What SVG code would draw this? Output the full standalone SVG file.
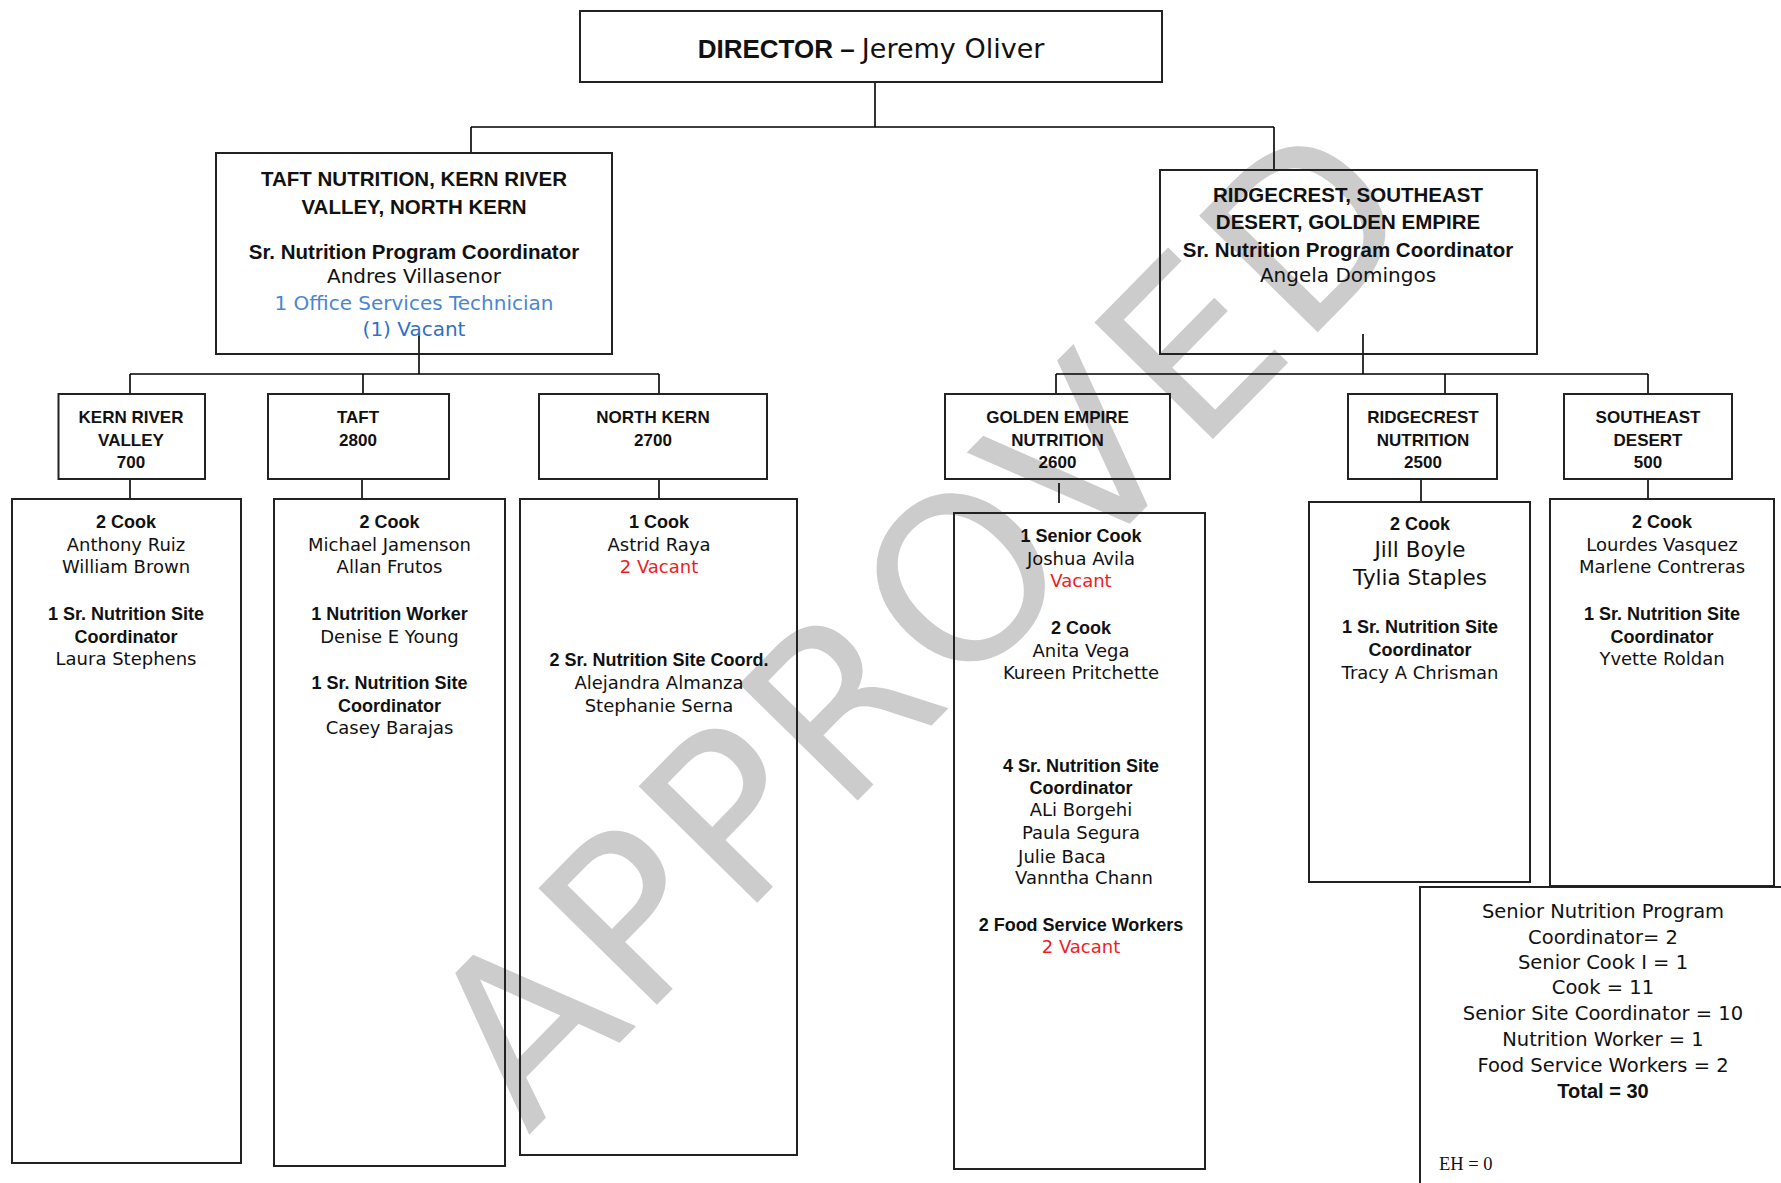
<svg xmlns="http://www.w3.org/2000/svg" width="1781" height="1183" viewBox="0 0 1781 1183">
  <style>
    .box { fill: none; stroke: #222; stroke-width: 2; }
    .conn { fill: none; stroke: #000; stroke-width: 1.6; }
    text { text-anchor: middle; fill: #111; }
    .b { font-family: "Liberation Sans", Arial, sans-serif; font-weight: bold; }
    .r { font-family: "DejaVu Sans", "Liberation Sans", sans-serif; }
    .title { font-size: 20.5px; }
    .name { font-size: 20px; }
    .dist { font-size: 17px; }
    .hd { font-size: 18px; }
    .st { font-size: 18px; }
    .big { font-size: 21.5px; }
    .sum { font-size: 19.5px; }
    .red { fill: #ee1c25; }
    .wm { font-family: "DejaVu Sans", sans-serif; font-size: 228px; fill: #cccccc; text-anchor: start; }
  </style>

  <rect x="0" y="0" width="1781" height="1183" fill="#fff"/>

  <!-- watermark stamp, behind everything -->
  <g id="watermark">
    <text class="wm" x="528" y="1136" textLength="1280" lengthAdjust="spacing" transform="rotate(-45.5 528 1136)">APPROVED</text>
  </g>

  <!-- reporting lines -->
  <g id="connectors" class="conn">
    <path d="M875 82 V127 M471 127 H1274 M471 127 V153 M1274 127 V170"/>
    <path d="M419 333 V374 M130 374 H659 M130 374 V394 M363 374 V394 M659 374 V394"/>
    <path d="M1363 334 V374 M1056 374 H1648 M1056 374 V394 M1445 374 V394 M1648 374 V394"/>
    <path d="M130 479 V499 M362 479 V499 M659 479 V499 M1059 483 V503 M1421 479 V502 M1648 479 V499"/>
  </g>

  <g id="director">
    <rect class="box" x="580" y="11" width="582" height="71"/>
    <text x="871" y="58"><tspan class="b" font-size="26">DIRECTOR – </tspan><tspan class="r" font-size="27">Jeremy Oliver</tspan></text>
  </g>

  <g id="region-west">
    <rect class="box" x="216" y="153" width="396" height="201"/>
    <text class="b title" x="414" y="186">TAFT NUTRITION, KERN RIVER</text>
    <text class="b title" x="414" y="214">VALLEY, NORTH KERN</text>
    <text class="b title" x="414" y="259">Sr. Nutrition Program Coordinator</text>
    <text class="r name" x="414" y="283">Andres Villasenor</text>
    <text class="r name" x="414" y="310" style="fill:#4a86d0">1 Office Services Technician</text>
    <text class="r name" x="414" y="336" style="fill:#2f6fc6">(1) Vacant</text>
  </g>

  <g id="region-east">
    <rect class="box" x="1160" y="170" width="377" height="184"/>
    <text class="b title" x="1348" y="202">RIDGECREST, SOUTHEAST</text>
    <text class="b title" x="1348" y="229">DESERT, GOLDEN EMPIRE</text>
    <text class="b title" x="1348" y="257">Sr. Nutrition Program Coordinator</text>
    <text class="r name" x="1348" y="282">Angela Domingos</text>
  </g>

  <g id="kern-river-valley">
    <rect class="box" x="58.5" y="394" width="146.5" height="85"/>
    <text class="b dist" x="131" y="423">KERN RIVER</text>
    <text class="b dist" x="131" y="446">VALLEY</text>
    <text class="b dist" x="131" y="468">700</text>
  </g>

  <g id="taft">
    <rect class="box" x="268" y="394" width="181" height="85"/>
    <text class="b dist" x="358" y="423">TAFT</text>
    <text class="b dist" x="358" y="446">2800</text>
  </g>

  <g id="north-kern">
    <rect class="box" x="539" y="394" width="228" height="85"/>
    <text class="b dist" x="653" y="423">NORTH KERN</text>
    <text class="b dist" x="653" y="446">2700</text>
  </g>

  <g id="golden-empire">
    <rect class="box" x="945" y="394" width="225" height="85"/>
    <text class="b dist" x="1057.5" y="423">GOLDEN EMPIRE</text>
    <text class="b dist" x="1057.5" y="446">NUTRITION</text>
    <text class="b dist" x="1057.5" y="468">2600</text>
  </g>

  <g id="ridgecrest">
    <rect class="box" x="1348" y="394" width="149" height="85"/>
    <text class="b dist" x="1423" y="423">RIDGECREST</text>
    <text class="b dist" x="1423" y="446">NUTRITION</text>
    <text class="b dist" x="1423" y="468">2500</text>
  </g>

  <g id="southeast-desert">
    <rect class="box" x="1564" y="394" width="168" height="85"/>
    <text class="b dist" x="1648" y="423">SOUTHEAST</text>
    <text class="b dist" x="1648" y="446">DESERT</text>
    <text class="b dist" x="1648" y="468">500</text>
  </g>

  <g id="kern-river-valley-staff">
    <rect class="box" x="12" y="499" width="229" height="664"/>
    <text class="b hd" x="126" y="528">2 Cook</text>
    <text class="r st" x="126" y="551">Anthony Ruiz</text>
    <text class="r st" x="126" y="573">William Brown</text>
    <text class="b hd" x="126" y="620">1 Sr. Nutrition Site</text>
    <text class="b hd" x="126" y="643">Coordinator</text>
    <text class="r st" x="126" y="665">Laura Stephens</text>
  </g>

  <g id="taft-staff">
    <rect class="box" x="274" y="499" width="231" height="667"/>
    <text class="b hd" x="389.5" y="528">2 Cook</text>
    <text class="r st" x="389.5" y="551">Michael Jamenson</text>
    <text class="r st" x="389.5" y="573">Allan Frutos</text>
    <text class="b hd" x="389.5" y="620">1 Nutrition Worker</text>
    <text class="r st" x="389.5" y="643">Denise E Young</text>
    <text class="b hd" x="389.5" y="689">1 Sr.  Nutrition Site</text>
    <text class="b hd" x="389.5" y="712">Coordinator</text>
    <text class="r st" x="389.5" y="734">Casey Barajas</text>
  </g>

  <g id="north-kern-staff">
    <rect class="box" x="520" y="499" width="277" height="656"/>
    <text class="b hd" x="659" y="528">1 Cook</text>
    <text class="r st" x="659" y="551">Astrid Raya</text>
    <text class="r st red" x="659" y="573">2 Vacant</text>
    <text class="b hd" x="659" y="666">2 Sr. Nutrition Site Coord.</text>
    <text class="r st" x="659" y="689">Alejandra Almanza</text>
    <text class="r st" x="659" y="712">Stephanie Serna</text>
  </g>

  <g id="golden-empire-staff">
    <rect class="box" x="954" y="513" width="251" height="656"/>
    <text class="b hd" x="1081" y="542">1 Senior Cook</text>
    <text class="r st" x="1081" y="565">Joshua Avila</text>
    <text class="r st red" x="1081" y="587">Vacant</text>
    <text class="b hd" x="1081" y="634">2 Cook</text>
    <text class="r st" x="1081" y="657">Anita Vega</text>
    <text class="r st" x="1081" y="679">Kureen Pritchette</text>
    <text class="b hd" x="1081" y="772">4 Sr. Nutrition Site</text>
    <text class="b hd" x="1081" y="794">Coordinator</text>
    <text class="r st" x="1081" y="816">ALi Borgehi</text>
    <text class="r st" x="1081" y="839">Paula Segura</text>
    <text class="r st" x="1062" y="863">Julie Baca</text>
    <text class="r st" x="1084" y="884">Vanntha Chann</text>
    <text class="b hd" x="1081" y="931">2 Food Service Workers</text>
    <text class="r st red" x="1081" y="953">2 Vacant</text>
  </g>

  <g id="ridgecrest-staff">
    <rect class="box" x="1309" y="502" width="221" height="380"/>
    <text class="b hd" x="1420" y="530">2 Cook</text>
    <text class="r big" x="1420" y="557">Jill Boyle</text>
    <text class="r big" x="1420" y="585">Tylia Staples</text>
    <text class="b hd" x="1420" y="633">1 Sr. Nutrition Site</text>
    <text class="b hd" x="1420" y="656">Coordinator</text>
    <text class="r st" x="1420" y="679">Tracy A Chrisman</text>
  </g>

  <g id="southeast-desert-staff">
    <rect class="box" x="1550" y="499" width="224" height="387"/>
    <text class="b hd" x="1662" y="528">2 Cook</text>
    <text class="r st" x="1662" y="551">Lourdes Vasquez</text>
    <text class="r st" x="1662" y="573">Marlene Contreras</text>
    <text class="b hd" x="1662" y="620">1 Sr. Nutrition Site</text>
    <text class="b hd" x="1662" y="643">Coordinator</text>
    <text class="r st" x="1662" y="665">Yvette Roldan</text>
  </g>

  <g id="staff-totals">
    <rect class="box" x="1420" y="887" width="400" height="400"/>
    <text class="r sum" x="1603" y="918">Senior Nutrition Program</text>
    <text class="r sum" x="1603" y="944">Coordinator= 2</text>
    <text class="r sum" x="1603" y="969">Senior Cook I = 1</text>
    <text class="r sum" x="1603" y="994">Cook = 11</text>
    <text class="r sum" x="1603" y="1020">Senior Site Coordinator = 10</text>
    <text class="r sum" x="1603" y="1046">Nutrition Worker = 1</text>
    <text class="r sum" x="1603" y="1072">Food Service Workers = 2</text>
    <text class="b" x="1603" y="1098" font-size="20">Total = 30</text>
    <text x="1439" y="1170" font-family="'Liberation Serif', 'Times New Roman', serif" font-size="18.5" style="text-anchor:start">EH = 0</text>
  </g>
</svg>
